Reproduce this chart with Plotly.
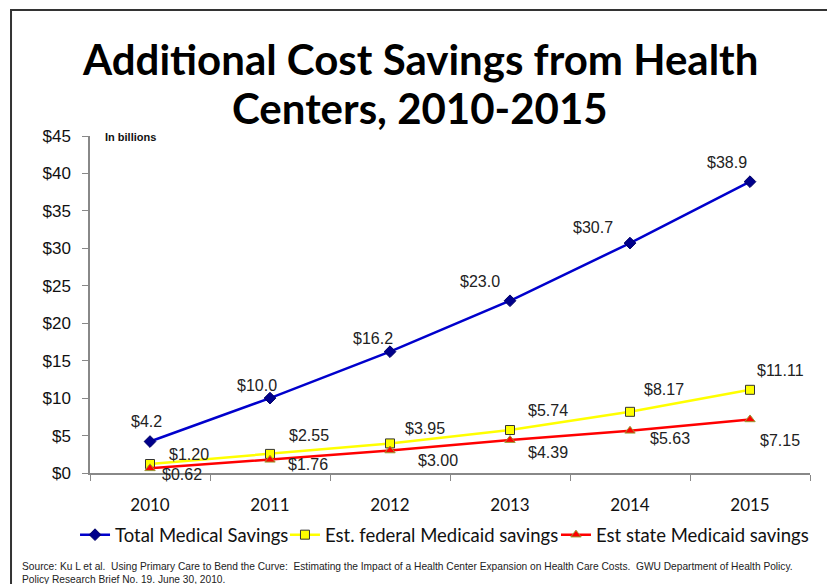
import plotly.graph_objects as go

years = ["2010", "2011", "2012", "2013", "2014", "2015"]
total = [4.2, 10.0, 16.2, 23.0, 30.7, 38.9]
federal = [1.20, 2.55, 3.95, 5.74, 8.17, 11.11]
state = [0.62, 1.76, 3.00, 4.39, 5.63, 7.15]
total_lbl = ["$4.2", "$10.0", "$16.2", "$23.0", "$30.7", "$38.9"]
federal_lbl = ["$1.20", "$2.55", "$3.95", "$5.74", "$8.17", "$11.11"]
state_lbl = ["$0.62", "$1.76", "$3.00", "$4.39", "$5.63", "$7.15"]
y_ticks = [0, 5, 10, 15, 20, 25, 30, 35, 40, 45]

fig = go.Figure()
fig.add_trace(go.Scatter(
    x=years, y=total, name="Total Medical Savings", mode="lines+markers", legend="legend",
    line=dict(color="#0000CC", width=2.5),
    marker=dict(symbol="diamond", size=9, color="#00008B", line=dict(color="#000066", width=1)),
))
fig.add_trace(go.Scatter(
    x=years, y=federal, name="Est. federal Medicaid savings", mode="lines+markers", legend="legend2",
    line=dict(color="#FFFF00", width=2.5),
    marker=dict(symbol="square", size=9, color="#FFFF00", line=dict(color="#333333", width=1)),
))
fig.add_trace(go.Scatter(
    x=years, y=state, name="Est state Medicaid savings", mode="lines+markers", legend="legend3",
    line=dict(color="#FF0000", width=2.5),
    marker=dict(symbol="triangle-up", size=9, color="#FF0000", line=dict(color="#999933", width=1)),
))

lblfont = dict(family="Liberation Sans, Arial", size=16, color="#222222")
tot_shift = [(-4, 20), (-13, 13), (-17, 13), (-30, 19), (-37, 16), (-23, 19)]
fed_shift = [(39, 10), (39, 18), (35, 15), (38, 20), (34, 22), (30, 19)]
sta_shift = [(32, -6), (38, -5), (48, -10), (38, -12), (40, -8), (30, -21)]
ann = []
for i, y in enumerate(years):
    for vals, lbls, sh in ((total, total_lbl, tot_shift), (federal, federal_lbl, fed_shift), (state, state_lbl, sta_shift)):
        ann.append(dict(x=i, y=vals[i], text=lbls[i], showarrow=False, font=lblfont,
                        xshift=sh[i][0], yshift=sh[i][1]))

ann.append(dict(xref="paper", yref="paper", x=0.018, y=0.997, xanchor="left", yanchor="middle",
                text="<b>In billions</b>", showarrow=False,
                font=dict(family="Liberation Sans, Arial", size=11, color="#111111")))
ann.append(dict(xref="paper", yref="paper", x=-0.097, y=-0.255, xanchor="left", yanchor="top",
                align="left", showarrow=False,
                text="Source: Ku L et al.  Using Primary Care to Bend the Curve:  Estimating the Impact of a Health Center Expansion on Health Care Costs.  GWU Department of Health Policy.<br>Policy Research Brief No. 19. June 30, 2010.",
                font=dict(family="Liberation Sans, Arial", size=10.2, color="#222222")))
title_font = dict(family="Lato, Carlito, sans-serif", size=42, color="#000000")
ann.append(dict(xref="paper", yref="paper", x=0.459, y=(465 - 51) / 337, xanchor="center", yanchor="middle",
                showarrow=False, text="<b>Additional Cost Savings from Health</b>", font=title_font))
ann.append(dict(xref="paper", yref="paper", x=0.459, y=(465 - 100) / 337, xanchor="center", yanchor="middle",
                showarrow=False, text="<b>Centers, 2010-2015</b>", font=title_font))

legfont = dict(family="Lato, Carlito, sans-serif", size=18.5, color="#111111")
def leg(x):
    return dict(orientation="h", x=x, xanchor="left", y=-0.128, yanchor="top", font=legfont,
                itemwidth=30, bgcolor="rgba(0,0,0,0)")

fig.update_layout(
    width=827, height=576,
    margin=dict(l=82, r=25, t=128, b=111, autoexpand=False),
    paper_bgcolor="white", plot_bgcolor="white",
    showlegend=True,
    legend=leg(-0.0208), legend2=leg(0.2708), legend3=leg(0.6472),
    annotations=ann,
    shapes=[dict(type="rect", xref="paper", yref="paper", x0=-0.1097, x1=1.029, y0=-0.36, y1=1.374,
                 line=dict(color="#333333", width=2), fillcolor="rgba(0,0,0,0)", layer="below")],
)
fig.update_xaxes(type="category", range=[-0.5, 5.5], tickson="boundaries", ticks="outside", ticklen=6,
                 tickcolor="#888888", showline=True, linecolor="#888888", linewidth=1.5, showgrid=False,
                 ticklabelstandoff=16,
                 tickfont=dict(family="Lato, Carlito, sans-serif", size=17, color="#111111"), zeroline=False)
fig.update_yaxes(range=[0, 45], tickvals=y_ticks, ticktext=["$" + str(v) for v in y_ticks],
                 ticks="outside", ticklen=6, tickcolor="#888888", showline=True, linecolor="#888888",
                 linewidth=1.5, showgrid=False, zeroline=False, ticklabelstandoff=8,
                 tickfont=dict(family="Liberation Sans, Arial", size=17, color="#111111"))

fig.write_html("out.html")
